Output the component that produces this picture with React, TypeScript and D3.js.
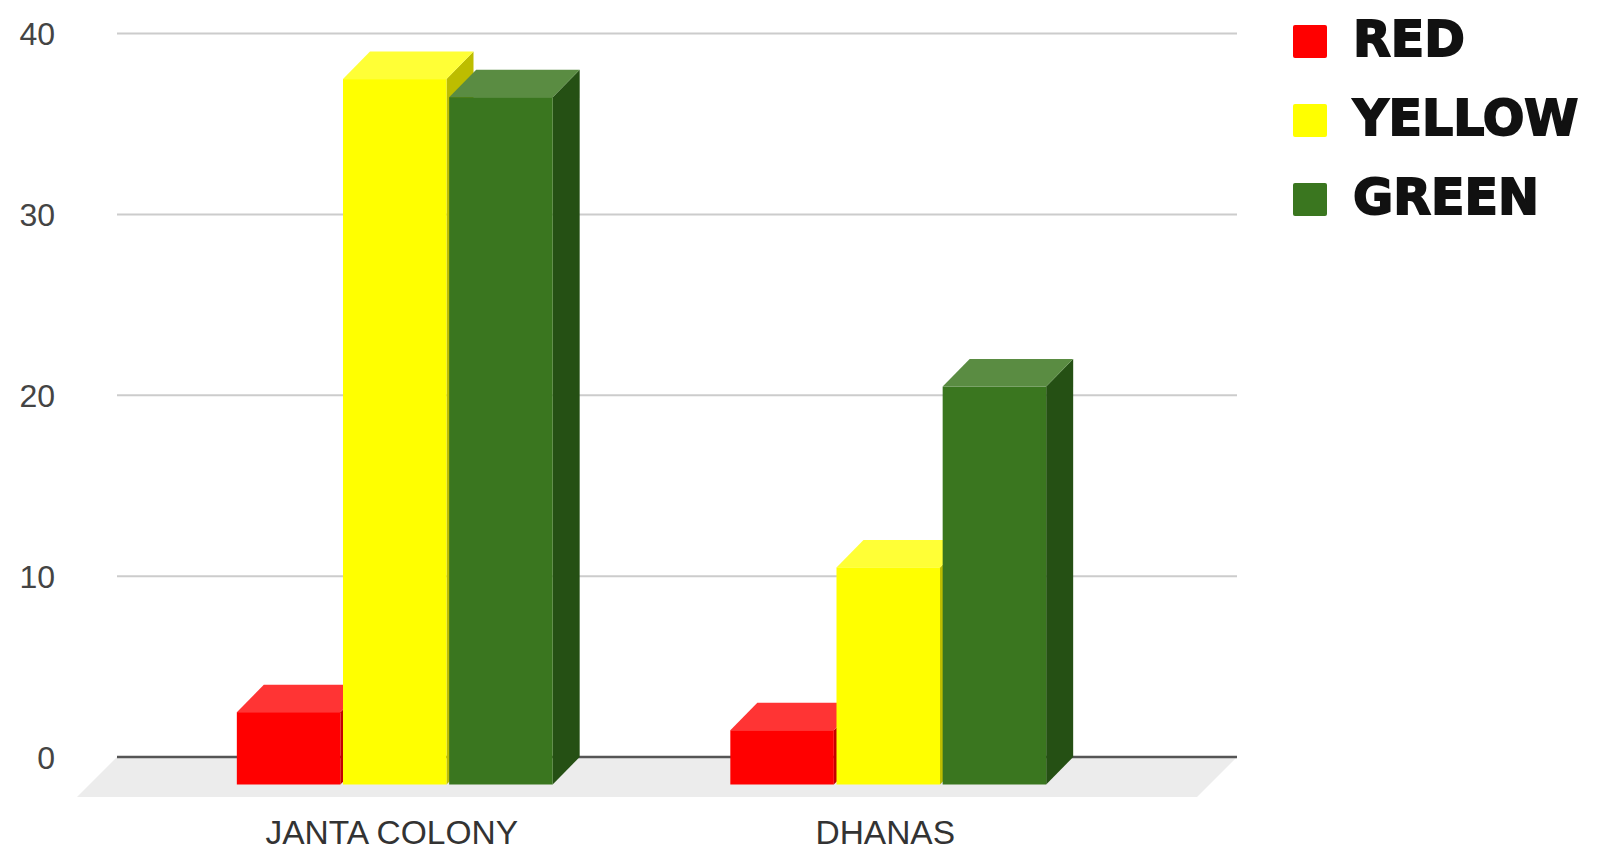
import React, { useEffect } from 'react';
import * as d3 from 'd3';

const categories = ['JANTA COLONY', 'DHANAS'];
const seriesNames = ['RED', 'YELLOW', 'GREEN'];
const redValues = [4, 3];
const yellowValues = [39, 12];
const greenValues = [38, 22];
const yTicks = [0, 10, 20, 30, 40];

const W = 1597;
const H = 853;
const DX = 27; // depth offset of the 3d bars
const DY = 27.5;

const faceColors: Record<string, { front: string; top: string; side: string }> = {
  RED: { front: '#ff0000', top: '#ff3434', side: '#c40000' },
  YELLOW: { front: '#ffff00', top: '#ffff36', side: '#bdbd00' },
  GREEN: { front: '#3a761f', top: '#5a8c42', side: '#255014' },
};

const App = () => {
  useEffect(() => {
    document.body.style.margin = '0';
  }, []);

  const values: Record<string, number[]> = {
    RED: redValues,
    YELLOW: yellowValues,
    GREEN: greenValues,
  };

  const y = d3.scaleLinear().domain([0, 40]).range([757, 33.5]);
  const x0 = d3
    .scaleBand<string>()
    .domain(categories)
    .range([148, 1135])
    .paddingInner(0.36)
    .paddingOuter(0.18);
  const x1 = d3
    .scaleBand<string>()
    .domain(seriesNames)
    .range([0, x0.bandwidth()])
    .paddingInner(0.025);

  const gridLeft = 117;
  const gridRight = 1237;
  const floorDepth = 40;

  const bars: JSX.Element[] = [];
  categories.forEach((c, ci) => {
    seriesNames.forEach((s) => {
      const v = values[s][ci];
      const xl = (x0(c) as number) + (x1(s) as number);
      const w = x1.bandwidth();
      const top = y(v);
      const base = y(0);
      const col = faceColors[s];
      const topFace = [
        [xl, top + DY],
        [xl + w, top + DY],
        [xl + w + DX, top],
        [xl + DX, top],
      ];
      const sideFace = [
        [xl + w, top + DY],
        [xl + w + DX, top],
        [xl + w + DX, base],
        [xl + w, base + DY],
      ];
      bars.push(
        <g key={c + s}>
          <polygon points={sideFace.map((p) => p.join(',')).join(' ')} fill={col.side} />
          <polygon points={topFace.map((p) => p.join(',')).join(' ')} fill={col.top} />
          <rect x={xl} y={top + DY} width={w} height={base - top} fill={col.front} />
        </g>
      );
    });
  });

  return (
    <svg width={W} height={H} style={{ display: 'block', background: '#fff' }}>
      {yTicks
        .filter((t) => t !== 0)
        .map((t) => (
          <line key={t} x1={gridLeft} x2={gridRight} y1={y(t)} y2={y(t)} stroke="#cccccc" strokeWidth={2} />
        ))}
      <polygon
        points={[
          [gridLeft, y(0)],
          [gridRight, y(0)],
          [gridRight - floorDepth, y(0) + floorDepth],
          [gridLeft - floorDepth, y(0) + floorDepth],
        ]
          .map((p) => p.join(','))
          .join(' ')}
        fill="#ececec"
      />
      <line x1={gridLeft} x2={gridRight} y1={y(0)} y2={y(0)} stroke="#555555" strokeWidth={2.5} />
      {yTicks.map((t) => (
        <text
          key={t}
          x={55}
          y={y(t)}
          dy="0.36em"
          textAnchor="end"
          fontFamily="Liberation Sans, Arial, sans-serif"
          fontSize={32}
          fill="#444444"
        >
          {t}
        </text>
      ))}
      {bars}
      {categories.map((c) => (
        <text
          key={c}
          x={(x0(c) as number) + x0.bandwidth() / 2 - 3}
          y={844}
          textAnchor="middle"
          fontFamily="Liberation Sans, Arial, sans-serif"
          fontSize={33.5}
          fill="#333333"
        >
          {c}
        </text>
      ))}
      {seriesNames.map((s, i) => (
        <g key={s} transform={`translate(1293, ${25 + i * 79})`}>
          <rect width={34} height={33} rx={2} fill={faceColors[s].front} />
          <text
            x={60}
            y={31}
            fontFamily="DejaVu Sans, sans-serif"
            fontWeight="bold"
            fontSize={49}
            fill="#111111"
            stroke="#111111"
            strokeWidth={1.8}
          >
            {s}
          </text>
        </g>
      ))}
    </svg>
  );
};

export default App;
